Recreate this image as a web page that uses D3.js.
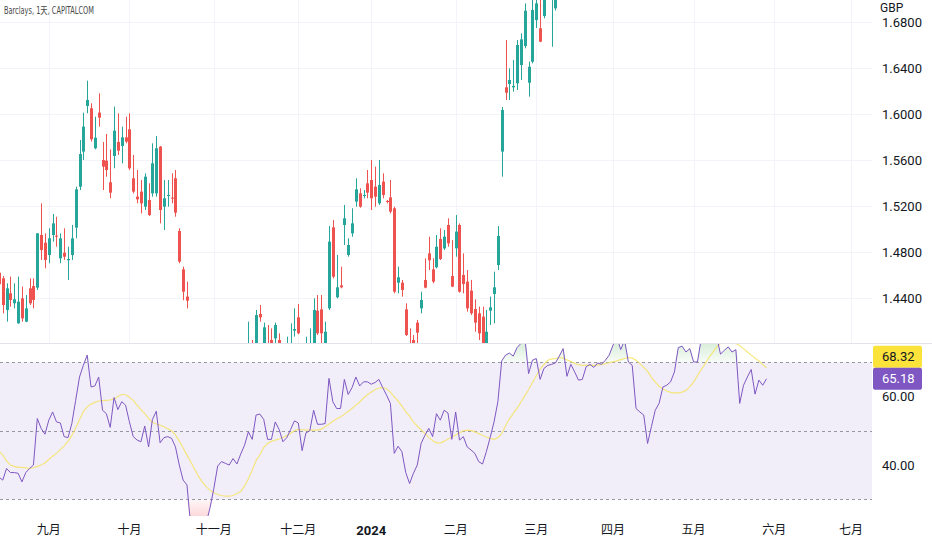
<!DOCTYPE html>
<html><head><meta charset="utf-8">
<script src="https://cdn.jsdelivr.net/npm/d3@7"></script>
<style>html,body{margin:0;padding:0;background:#fff;overflow:hidden}</style>
</head><body><svg id="c" width="932" height="550"></svg>
<script>
// ---------------- data ----------------
const title = "Barclays, 1天, CAPITALCOM";
const currency = "GBP";
const monthLabels = ["九月","十月","十一月","十二月","2024","二月","三月","四月","五月","六月","七月"];
const monthBars   = [13, 34, 56, 78, 97, 119, 140, 160, 181, 202, 222];
const priceTicks = [1.44, 1.48, 1.52, 1.56, 1.60, 1.64, 1.68];
const rsiTicks = [40, 60];
const rsiBands = [70, 50, 30];
// daily candles [open, high, low, close], first bar = 17 Aug 2023
const ohlc = [
[1.462,1.468,1.448,1.452],[1.4571,1.4591,1.4267,1.4339],[1.4296,1.4528,1.4194,1.4484],[1.4441,1.4586,1.4325,1.4383],[1.4354,1.4528,1.4310,1.4389],
[1.4180,1.4586,1.4175,1.4368],[1.4397,1.4499,1.4194,1.4223],[1.4194,1.4426,1.4190,1.4310],[1.4484,1.4571,1.4339,1.4354],[1.4504,1.4571,1.4310,1.4383],
[1.4490,1.4965,1.4470,1.4962],[1.4948,1.5223,1.4731,1.4817],[1.4881,1.4962,1.4658,1.4731],[1.4774,1.5006,1.4702,1.4919],[1.4948,1.5130,1.4890,1.5049],
[1.4942,1.5107,1.4846,1.4933],[1.4745,1.4962,1.4702,1.4919],[1.4794,1.5006,1.4731,1.4759],[1.4728,1.4846,1.4557,1.4739],[1.4774,1.5035,1.4731,1.4919],
[1.5012,1.5368,1.4919,1.5345],[1.5368,1.5774,1.5339,1.5652],[1.5673,1.6012,1.5600,1.5890],[1.6070,1.6290,1.6006,1.6122],[1.6050,1.6093,1.5760,1.5780],
[1.5702,1.5977,1.5693,1.5794],[1.6012,1.6180,1.5890,1.5968],[1.5600,1.5757,1.5339,1.5542],[1.5594,1.5826,1.5455,1.5513],[1.5406,1.5693,1.5267,1.5316],
[1.5635,1.6064,1.5528,1.5855],[1.5757,1.6006,1.5644,1.5681],[1.5722,1.5890,1.5571,1.5797],[1.5797,1.5977,1.5745,1.5760],[1.5867,1.6006,1.5513,1.5528],
[1.5441,1.5644,1.5310,1.5325],[1.5281,1.5513,1.5223,1.5258],[1.5325,1.5426,1.5136,1.5223],[1.5194,1.5484,1.5165,1.5455],[1.5252,1.5397,1.5113,1.5121],
[1.5310,1.5745,1.5281,1.5571],[1.5310,1.5809,1.5281,1.5702],[1.5716,1.5722,1.5049,1.5165],[1.5194,1.5426,1.4991,1.5267],[1.5287,1.5426,1.5194,1.5296],
[1.5273,1.5484,1.5223,1.5267],[1.5441,1.5513,1.5107,1.5142],[1.4983,1.5006,1.4702,1.4716],[1.4649,1.4673,1.4380,1.4455],[1.4412,1.4542,1.4310,1.4377],
[1.395,1.398,1.320,1.330],[1.330,1.345,1.312,1.318],[1.318,1.330,1.305,1.322],[1.320,1.326,1.295,1.300],[1.302,1.318,1.290,1.310],
[1.310,1.335,1.305,1.328],[1.330,1.352,1.325,1.345],[1.348,1.372,1.340,1.365],[1.362,1.378,1.355,1.370],[1.372,1.376,1.360,1.368],
[1.368,1.372,1.358,1.366],[1.366,1.380,1.362,1.374],[1.374,1.378,1.362,1.368],[1.368,1.385,1.364,1.380],[1.380,1.396,1.376,1.390],
[1.388,1.4194,1.382,1.398],[1.398,1.4035,1.385,1.392],[1.392,1.4296,1.388,1.4252],[1.4261,1.4339,1.4194,1.4232],[1.398,1.4186,1.392,1.4145],
[1.399,1.4165,1.385,1.392],[1.4035,1.4136,1.388,1.392],[1.4049,1.4186,1.399,1.4165],[1.4035,1.4093,1.393,1.399],[1.398,1.399,1.382,1.388],
[1.388,1.4064,1.384,1.393],[1.393,1.418,1.390,1.3995],[1.4116,1.4310,1.4064,1.4130],[1.4232,1.4348,1.4085,1.4093],[1.398,1.399,1.378,1.384],
[1.384,1.4064,1.380,1.395],[1.394,1.4136,1.390,1.397],[1.397,1.4397,1.393,1.4296],[1.4290,1.4426,1.4078,1.4093],[1.4301,1.4426,1.400,1.4093],
[1.398,1.4194,1.395,1.4107],[1.4310,1.5026,1.4296,1.4890],[1.5014,1.5078,1.4571,1.4585],[1.4406,1.4774,1.4397,1.4493],[1.4510,1.4672,1.4484,1.4493],
[1.5035,1.5209,1.4861,1.5093],[1.4774,1.4919,1.4759,1.4861],[1.4962,1.5180,1.4933,1.5049],[1.5238,1.5441,1.5194,1.5345],[1.5310,1.5354,1.5185,1.5194],
[1.5287,1.5339,1.5267,1.5296],[1.5397,1.5513,1.5267,1.5316],[1.5426,1.5600,1.5165,1.5267],[1.5368,1.5542,1.5194,1.5281],[1.5223,1.5600,1.5209,1.5383],
[1.5412,1.5484,1.5267,1.5296],[1.5244,1.5252,1.5223,1.5235],[1.5275,1.5426,1.5136,1.5151],[1.5180,1.5194,1.4441,1.4455],[1.4533,1.4672,1.4441,1.4580],
[1.4533,1.4557,1.4412,1.4470],[1.4301,1.4354,1.4070,1.4078],[1.398,1.4136,1.385,1.390],[1.4035,1.4078,1.394,1.399],[1.4186,1.4209,1.400,1.4099],
[1.4310,1.4455,1.4267,1.4383],[1.4557,1.4745,1.4484,1.4490],[1.4788,1.4933,1.4643,1.4728],[1.4649,1.4745,1.4528,1.4542],[1.4667,1.4948,1.4658,1.4846],
[1.4913,1.5006,1.4730,1.4739],[1.4832,1.4991,1.4817,1.4933],[1.5035,1.5093,1.4846,1.4875],[1.4591,1.4904,1.4495,1.4499],[1.4832,1.5122,1.4759,1.4977],
[1.5035,1.5049,1.4446,1.4455],[1.4600,1.4788,1.4441,1.4522],[1.4542,1.4643,1.4281,1.4310],[1.4464,1.4557,1.4252,1.4267],[1.4304,1.4388,1.4107,1.4186],
[1.4267,1.4325,1.4035,1.4093],[1.4238,1.4325,1.395,1.399],[1.398,1.4296,1.394,1.4107],[1.4290,1.4412,1.4165,1.4319],[1.4435,1.4629,1.4180,1.4493],
[1.4687,1.5026,1.4643,1.4939],[1.5673,1.6060,1.5455,1.6035],[1.6232,1.6643,1.6122,1.6185],[1.6261,1.6397,1.6122,1.6296],[1.6232,1.6470,1.6194,1.6244],
[1.6267,1.6643,1.6209,1.6600],[1.6426,1.6701,1.6296,1.6649],[1.6591,1.6962,1.6571,1.6898],[1.6272,1.6455,1.6151,1.6411],[1.6455,1.7030,1.6440,1.6904],
[1.6817,1.7050,1.6748,1.6962],[1.6745,1.7020,1.6625,1.6629],[1.6852,1.7120,1.6832,1.7040],[1.7050,1.7200,1.7020,1.7120],[1.7040,1.7220,1.6585,1.7140],
[1.6919,1.7250,1.6900,1.7150],[1.712,1.728,1.706,1.722],[1.722,1.750,1.718,1.745],[1.744,1.748,1.722,1.728],[1.728,1.746,1.724,1.740],
[1.740,1.744,1.728,1.734],[1.734,1.738,1.720,1.726],[1.724,1.732,1.718,1.727],[1.728,1.748,1.726,1.742],[1.742,1.752,1.736,1.746],
[1.746,1.750,1.738,1.744],[1.745,1.758,1.740,1.752],[1.752,1.758,1.744,1.751],[1.752,1.766,1.748,1.760],[1.760,1.778,1.756,1.772],
[1.774,1.806,1.770,1.800],[1.802,1.832,1.798,1.825],[1.826,1.830,1.808,1.815],[1.816,1.846,1.812,1.840],[1.840,1.844,1.820,1.825],
[1.826,1.836,1.816,1.822],[1.815,1.820,1.762,1.770],[1.772,1.782,1.758,1.766],[1.768,1.776,1.752,1.762],[1.758,1.760,1.722,1.730],
[1.732,1.754,1.728,1.748],[1.750,1.772,1.744,1.768],[1.770,1.782,1.762,1.776],[1.778,1.806,1.774,1.800],[1.800,1.810,1.794,1.803],
[1.804,1.816,1.798,1.810],[1.812,1.832,1.806,1.826],[1.840,1.886,1.836,1.880],[1.880,1.898,1.872,1.890],[1.892,1.900,1.878,1.885],
[1.886,1.902,1.880,1.895],[1.894,1.898,1.872,1.880],[1.880,1.890,1.872,1.882],[1.884,1.926,1.880,1.920],[1.922,1.950,1.918,1.945],
[1.946,1.966,1.940,1.960],[1.960,1.968,1.948,1.955],[1.955,1.964,1.948,1.958],[1.958,1.962,1.940,1.945],[1.946,1.960,1.942,1.955],
[1.956,1.974,1.952,1.968],[1.968,1.972,1.954,1.960],[1.960,1.972,1.956,1.966],[1.950,1.956,1.894,1.900],[1.902,1.930,1.898,1.925],
[1.926,1.942,1.920,1.938],[1.938,1.956,1.934,1.950],[1.948,1.950,1.910,1.915],[1.918,1.940,1.912,1.935],[1.936,1.940,1.922,1.928],
[1.928,1.944,1.924,1.938]
];
const rsi = [
36.5,35.6,39.0,37.8,37.8,37.6,35.1,37.8,39.0,40.0,
53.6,50.7,49.0,53.1,55.5,52.6,52.3,48.3,48.0,52.1,
58.9,65.7,69.1,72.1,62.8,63.1,65.7,56.0,55.0,51.0,
59.7,56.2,58.5,57.5,52.6,48.3,47.3,46.8,51.4,45.3,
53.3,55.7,46.5,48.0,48.3,47.8,45.3,40.0,35.6,34.2,
22.0,20.0,21.0,19.5,23.0,27.5,33.2,39.7,41.0,40.5,
40.0,41.9,40.3,43.2,45.8,49.7,47.5,54.6,54.9,53.3,
47.5,47.5,52.6,50.4,46.8,48.0,50.4,52.9,52.3,44.2,
49.4,50.0,56.0,51.9,51.9,52.1,65.3,58.5,56.5,56.5,
65.0,60.6,62.6,65.7,63.1,64.3,64.3,63.6,64.1,65.0,
62.6,60.4,58.0,43.4,45.5,43.9,37.8,34.6,37.6,40.0,
46.3,48.7,50.7,48.3,55.0,53.1,56.0,55.2,47.5,55.5,
47.3,48.3,45.3,44.4,43.4,41.0,40.3,43.9,48.1,52.6,
58.5,70.4,72.1,72.7,71.8,74.3,75.5,77.5,66.7,70.6,
71.1,65.0,68.2,69.1,69.4,69.8,71.8,74.0,65.9,69.4,
67.2,64.8,65.0,68.7,69.4,68.5,69.8,69.4,70.6,72.1,
75.0,77.5,73.7,76.5,70.1,69.1,56.5,55.5,54.6,46.3,
51.2,56.0,58.0,62.8,63.3,64.3,67.2,74.3,74.7,73.0,
74.0,70.1,70.1,77.0,78.5,79.0,78.0,77.5,72.4,73.5,
74.5,73.0,73.7,58.0,63.3,65.7,67.9,60.7,64.8,63.3,
65.18
];
const rsiMA = [
44.0,43.0,41.2,40.0,39.6,39.3,39.3,39.2,39.0,39.2,
39.6,40.0,40.6,41.6,42.6,43.4,44.5,45.6,46.9,48.6,
50.8,53.2,55.6,57.0,57.8,58.3,58.7,58.8,58.9,59.0,
59.3,60.0,60.6,60.6,59.8,58.9,57.5,56.2,55.0,53.6,
52.5,52.0,51.6,51.2,50.6,50.0,48.8,47.0,45.0,42.9,
40.9,38.8,36.7,35.0,33.7,32.6,31.9,31.4,31.1,30.9,
30.9,31.1,31.7,32.3,33.9,36.0,38.5,41.3,43.0,45.2,
46.3,46.9,47.3,47.6,48.1,48.5,49.3,50.0,50.4,50.3,
50.2,50.2,50.2,50.2,50.5,51.2,52.0,52.8,53.5,54.0,
54.8,55.7,56.5,57.5,58.4,59.6,60.5,61.3,62.0,62.5,
62.6,62.3,61.2,59.9,58.7,57.2,55.6,54.3,52.5,51.4,
50.3,49.2,48.0,47.2,46.5,46.5,46.9,47.6,48.1,48.8,
49.4,50.0,50.2,50.1,49.7,49.2,48.7,48.2,47.8,47.5,
48.0,49.2,51.5,53.5,55.0,56.6,58.4,60.2,62.0,64.1,
66.0,68.0,69.3,70.6,71.0,71.1,71.4,71.2,70.7,70.2,
69.7,69.3,69.1,69.1,69.1,69.1,69.2,69.4,69.6,69.9,
70.1,70.4,70.8,71.1,71.4,71.2,70.6,69.6,68.5,67.4,
65.6,64.2,63.0,62.2,61.6,61.2,61.1,61.1,61.3,61.8,
62.8,64.2,66.1,67.9,69.6,71.4,72.9,74.5,75.5,76.3,
76.4,76.1,75.5,74.9,74.0,73.0,72.1,71.2,70.4,69.4,
68.32
];

// ---------------- drawing ----------------
const svg = d3.select("#c");
const W = 932, H = 550, plotRight = 872;
const mainTop = 0, mainBottom = 343.5, rsiTop = 344, rsiBottom = 516;
const UP = "#26a69a", DOWN = "#ef5350";
const axisFont = "Roboto, 'Noto Sans', sans-serif";

const x = d3.scaleLinear().domain([0, 222]).range([-1.1, 851]);
const y = d3.scaleLinear().domain([1.40, 1.68]).range([344, 22]);
const yr = d3.scaleLinear().domain([30, 70]).range([499.3, 362.3]);

const defs = svg.append("defs");
defs.append("clipPath").attr("id","clipMain").append("rect")
  .attr("x",0).attr("y",mainTop).attr("width",plotRight).attr("height",mainBottom-mainTop);
defs.append("clipPath").attr("id","clipRsi").append("rect")
  .attr("x",0).attr("y",rsiTop).attr("width",plotRight).attr("height",rsiBottom-rsiTop);
defs.append("clipPath").attr("id","clipAxis").append("rect")
  .attr("x",plotRight).attr("y",18).attr("width",W-plotRight).attr("height",mainBottom-18);
const gOB = defs.append("linearGradient").attr("id","gOB").attr("gradientUnits","userSpaceOnUse")
  .attr("x1",0).attr("x2",0).attr("y1",yr(70)).attr("y2",yr(80));
gOB.append("stop").attr("offset","0%").attr("stop-color","#4caf50").attr("stop-opacity",0.04);
gOB.append("stop").attr("offset","100%").attr("stop-color","#4caf50").attr("stop-opacity",0.35);
const gOS = defs.append("linearGradient").attr("id","gOS").attr("gradientUnits","userSpaceOnUse")
  .attr("x1",0).attr("x2",0).attr("y1",yr(30)).attr("y2",yr(20));
gOS.append("stop").attr("offset","0%").attr("stop-color","#f23645").attr("stop-opacity",0.04);
gOS.append("stop").attr("offset","100%").attr("stop-color","#f23645").attr("stop-opacity",0.35);

// grid
const grid = svg.append("g").attr("stroke","#f2f4f9").attr("stroke-width",1);
priceTicks.forEach(p => grid.append("line").attr("x1",0).attr("x2",plotRight)
  .attr("y1",Math.round(y(p))+0.5).attr("y2",Math.round(y(p))+0.5));
monthBars.forEach(b => grid.append("line").attr("y1",0).attr("y2",mainBottom)
  .attr("x1",Math.round(x(b))+0.5).attr("x2",Math.round(x(b))+0.5));

// candles
const gc = svg.append("g").attr("clip-path","url(#clipMain)");
ohlc.forEach((d,i) => {
  const [o,h,l,c] = d;
  const col = c >= o ? UP : DOWN;
  const cx = Math.round(x(i));
  gc.append("line").attr("x1",cx+0.5).attr("x2",cx+0.5).attr("y1",y(h)).attr("y2",y(l))
    .attr("stroke",col).attr("stroke-width",1);
  const top = y(Math.max(o,c)), bot = y(Math.min(o,c));
  gc.append("rect").attr("x",cx-1).attr("width",3).attr("y",top)
    .attr("height",Math.max(1,bot-top)).attr("fill",col);
});

// pane separator
svg.append("line").attr("x1",0).attr("x2",W).attr("y1",343.5).attr("y2",343.5)
  .attr("stroke","#e0e3eb").attr("stroke-width",1);

// RSI pane
const gr = svg.append("g").attr("clip-path","url(#clipRsi)");
gr.append("rect").attr("x",0).attr("width",plotRight).attr("y",yr(70)).attr("height",yr(30)-yr(70))
  .attr("fill","#7e57c2").attr("fill-opacity",0.1);
gr.append("path").datum(rsi).attr("fill","url(#gOB)")
  .attr("d", d3.area().x((d,i)=>x(i)).y0(yr(70)).y1(d=>yr(Math.max(d,70))));
gr.append("path").datum(rsi).attr("fill","url(#gOS)")
  .attr("d", d3.area().x((d,i)=>x(i)).y0(yr(30)).y1(d=>yr(Math.min(d,30))));
rsiBands.forEach(v => gr.append("line").attr("x1",0).attr("x2",plotRight)
  .attr("y1",Math.round(yr(v))+0.5).attr("y2",Math.round(yr(v))+0.5)
  .attr("stroke","#9598a1").attr("stroke-dasharray","3,3").attr("stroke-width",1));
gr.append("path").datum(rsiMA).attr("fill","none").attr("stroke","#f5e25c").attr("stroke-opacity",0.8)
  .attr("stroke-width",1.2).attr("d", d3.line().x((d,i)=>x(i)).y(d=>yr(d)));
gr.append("path").datum(rsi).attr("fill","none").attr("stroke","#7e57c2").attr("stroke-width",1)
  .attr("d", d3.line().x((d,i)=>x(i)).y(d=>yr(d)));

// price axis labels (top one partly hidden under the currency label, as in the reference)
const ax = svg.append("g").attr("font-family",axisFont).attr("font-size",13).attr("fill","#131722");
const axPrice = ax.append("g").attr("clip-path","url(#clipAxis)");
priceTicks.forEach(p => axPrice.append("text").attr("x",882).attr("y",y(p)).attr("dy","0.35em").text(p.toFixed(4)));
svg.append("text").attr("x",880).attr("y",7.5).attr("dy","0.35em").attr("font-family",axisFont)
  .attr("font-size",12).attr("fill","#131722").text(currency);
rsiTicks.forEach(v => ax.append("text").attr("x",882).attr("y",yr(v)).attr("dy","0.35em").text(v.toFixed(2)));

// last value labels
const lastR = rsi[rsi.length-1], lastM = rsiMA[rsiMA.length-1];
const rY = yr(lastR), mY = Math.min(yr(lastM), rY - 22);
svg.append("rect").attr("x",873).attr("y",mY-11).attr("width",49).attr("height",22).attr("rx",2).attr("fill","#fbe33b");
svg.append("text").attr("x",882).attr("y",mY).attr("dy","0.35em").attr("font-family",axisFont)
  .attr("font-size",13).attr("fill","#131722").text(lastM.toFixed(2));
svg.append("rect").attr("x",873).attr("y",rY-11).attr("width",49).attr("height",22).attr("rx",2).attr("fill","#7e57c2");
svg.append("text").attr("x",882).attr("y",rY).attr("dy","0.35em").attr("font-family",axisFont)
  .attr("font-size",13).attr("fill","#ffffff").text(lastR.toFixed(2));

// time axis
const tx = svg.append("g").attr("font-family","Roboto, 'Noto Sans CJK SC', sans-serif").attr("font-size",12).attr("fill","#131722");
monthLabels.forEach((m,k) => tx.append("text").attr("x",x(monthBars[k])).attr("y",530).attr("dy","0.35em")
  .attr("text-anchor","middle").attr("font-weight", /^\d+$/.test(m) ? 700 : 400)
  .attr("font-size", /^\d+$/.test(m) ? 13 : 12).text(m));

// title
svg.append("text").attr("x",4).attr("y",14).attr("font-family","'Liberation Sans Narrow','DejaVu Sans Condensed','Noto Sans CJK SC',sans-serif")
  .attr("font-size",10).attr("fill","#4a4a4a").attr("textLength",90).attr("lengthAdjust","spacingAndGlyphs").text(title);

if (ohlc.length !== rsi.length || rsi.length !== rsiMA.length)
  svg.append("text").attr("x",300).attr("y",300).attr("fill","red").text(`len ${ohlc.length} ${rsi.length} ${rsiMA.length}`);
</script></body></html>
